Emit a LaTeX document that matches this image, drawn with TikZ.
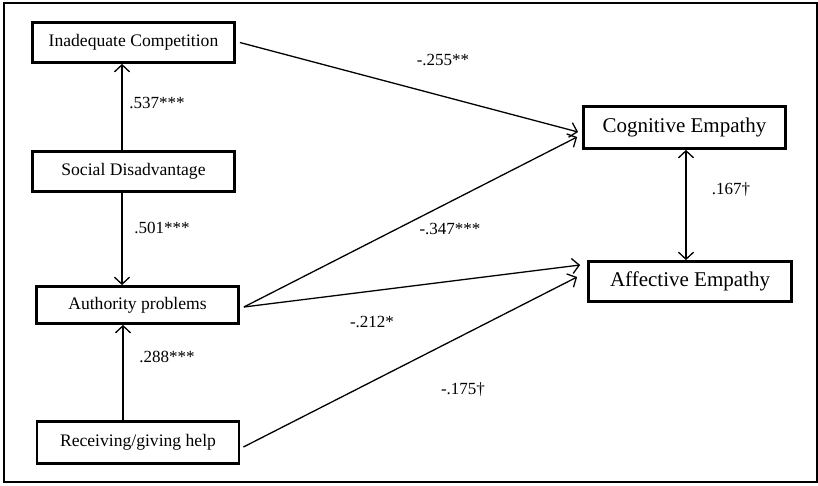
\documentclass[tikz,border=0pt]{standalone}
\usepackage{fontspec}
\setmainfont{Liberation Serif}
\usetikzlibrary{arrows.meta}

\begin{document}
\begin{tikzpicture}[x=1pt,y=-1pt]
\tikzstyle{factor} = [draw, line width=2.8pt, minimum width=202pt, minimum height=40pt, inner sep=0pt, font=\fontsize{17.6}{20}\selectfont]
\tikzstyle{outcome} = [factor, font=\fontsize{21}{24}\selectfont]
\tikzstyle{effect} = [line width=1.3pt, -{Straight Barb[length=7pt,width=15pt,line width=1.3pt]}]
\tikzstyle{coef} = [font=\fontsize{17}{20}\selectfont, inner sep=0pt]
\useasboundingbox (0,0) rectangle (818,485);
\draw[line width=1.2pt] (4,3) rectangle (817,482);
% predictors
\node[factor] (inad) at (133.5,42.5) {Inadequate Competition};
\node[factor] (soc) at (133.5,171.5) {Social Disadvantage};
\node[factor, minimum height=37pt] (auth) at (137.5,305) {Authority problems};
\node[factor, minimum height=42pt] (help) at (138,442.5) {Receiving/giving help};
% outcomes
\node[outcome, minimum height=42pt] (cog) at (684.5,127.5) {Cognitive Empathy};
\node[outcome, minimum height=40pt, minimum width=203pt] (aff) at (690,281.5) {Affective Empathy};
% paths
\draw[effect] ([xshift=-11.5pt]soc.north) -- ([xshift=-11.5pt]inad.south);
\draw[effect] ([xshift=-11.5pt]soc.south) -- ([xshift=-15.5pt]auth.north);
\draw[effect] ([xshift=-15pt]help.north) -- ([xshift=-14.5pt]auth.south);
\draw[effect] ([xshift=4pt]inad.east) -- ([xshift=-4pt,yshift=-4.5pt]cog.west);
\draw[effect] ([xshift=4pt,yshift=-2pt]auth.east) -- ([xshift=-5pt,yshift=-9.5pt]cog.west);
\draw[effect] ([xshift=4pt,yshift=-2pt]auth.east) -- ([xshift=-7pt,yshift=16.5pt]aff.west);
\draw[effect] ([xshift=3pt,yshift=-4.5pt]help.east) -- ([xshift=-10pt,yshift=4.5pt]aff.west);
\draw[line width=1.3pt, {Straight Barb[length=7pt,width=15pt,line width=1.3pt]}-{Straight Barb[length=7pt,width=15pt,line width=1.3pt]}] ([xshift=1.5pt]cog.south) -- ([xshift=-4pt]aff.north);
% coefficients
\node[coef] (c1) at (157,103) {.537***};
\node[coef] (c2) at (162,228) {.501***};
\node[coef] (c3) at (167,357) {.288***};
\node[coef] (c4) at (443,60) {-.255**};
\node[coef] (c5) at (450,229) {-.347***};
\node[coef] (c6) at (372,322) {-.212*};
\node[coef] (c7) at (463,390) {-.175†};
\node[coef] (c8) at (731,190) {.167†};
\end{tikzpicture}
\end{document}
